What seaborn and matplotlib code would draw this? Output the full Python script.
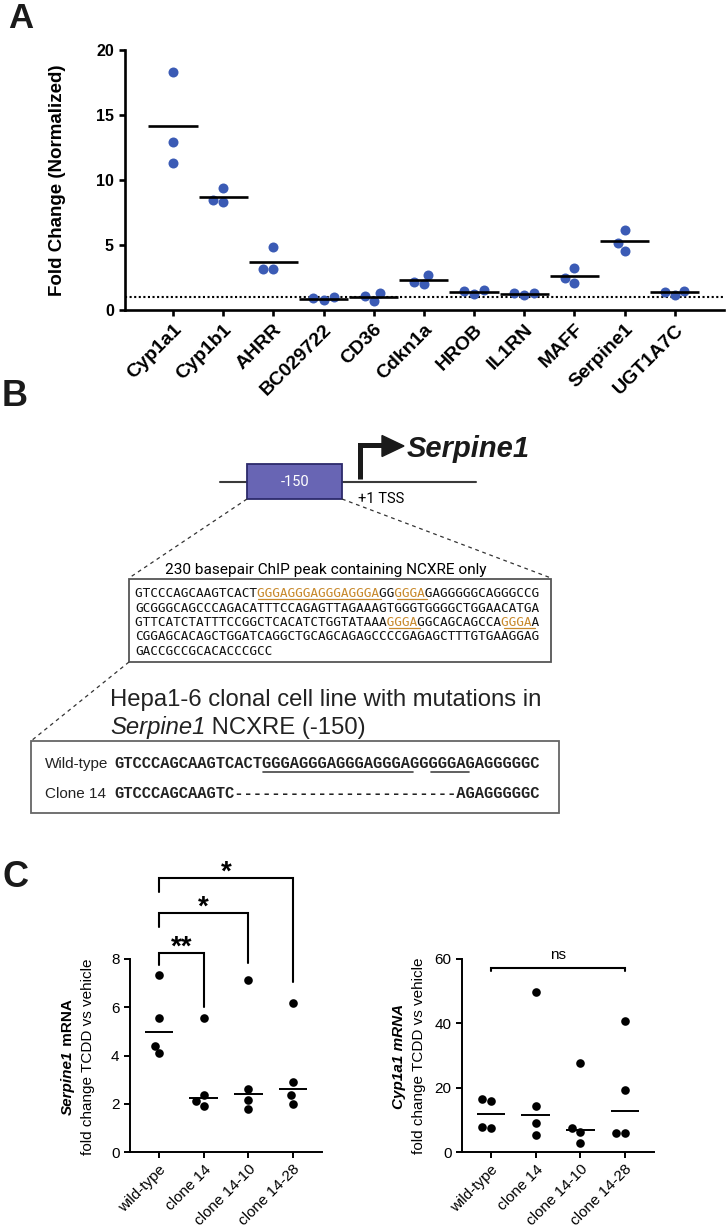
import numpy as np
import pandas as pd
import matplotlib
matplotlib.use("Agg")
import matplotlib.pyplot as plt
import seaborn as sns
from matplotlib.patches import Rectangle, Polygon

# ---- panel A data ----
genes = ['Cyp1a1', 'Cyp1b1', 'AHRR', 'BC029722', 'CD36', 'Cdkn1a',
         'HROB', 'IL1RN', 'MAFF', 'Serpine1', 'UGT1A7C']
fold_change = [[18.3, 12.9, 11.3], [9.36, 8.28, 8.46], [4.82, 3.13, 3.13],
               [0.77, 0.97, 0.90], [0.69, 1.28, 1.08], [1.97, 2.69, 2.18],
               [1.23, 1.54, 1.49], [1.13, 1.33, 1.28], [2.10, 3.26, 2.49],
               [4.51, 6.18, 5.13], [1.18, 1.49, 1.41]]

# ---- panel B text ----
chip_seq = ['GTCCCAGCAAGTCACTGGGAGGGAGGGAGGGAGGGGGAGAGGGGGCAGGGCCG',
            'GCGGGCAGCCCAGACATTTCCAGAGTTAGAAAGTGGGTGGGGCTGGAACATGA',
            'GTTCATCTATTTCCGGCTCACATCTGGTATAAAGGGAGGCAGCAGCCAGGGAA',
            'CGGAGCACAGCTGGATCAGGCTGCAGCAGAGCCCCGAGAGCTTTGTGAAGGAG',
            'GACCGCCGCACACCCGCC']
chip_motifs = [[(16, 32), (34, 38)], [], [(33, 37), (48, 52)], [], []]
mut_names = ['Wild-type', 'Clone 14']
mut_seq = ['GTCCCAGCAAGTCACTGGGAGGGAGGGAGGGAGGGGGAGAGGGGGC',
           'GTCCCAGCAAGTC' + '-' * 24 + 'AGAGGGGGC']
mut_underline = [(16, 32), (34, 38)]

# ---- panel C data ----
clones = ['wild-type', 'clone 14', 'clone 14-10', 'clone 14-28']
serpine1_mrna = [[7.34, 5.57, 4.10, 4.41], [5.57, 2.36, 1.92, 2.13],
                 [7.12, 2.61, 2.16, 1.77], [6.16, 2.89, 2.35, 2.00]]
cyp1a1_mrna = [[15.85, 16.5, 7.36, 7.9], [49.8, 14.3, 8.9, 5.18],
               [27.8, 7.36, 6.2, 2.9], [40.7, 19.3, 6.0, 6.0]]
sig_pairs = [(0, 1), (0, 2), (0, 3)]
sig_labels = ['**', '*', '*']
sig_tops = [8.26, 9.92, 11.37]
sig_left_ends = [7.76, 9.34, 10.79]
sig_right_ends = [6.02, 7.84, 7.05]

BLUE = '#3B5BB5'
ORANGE = '#C8892C'

sns.set_style('ticks')
plt.rcParams['font.family'] = ['Liberation Sans', 'DejaVu Sans']
plt.rcParams.update({'text.color': 'black', 'axes.labelcolor': 'black',
                     'xtick.color': 'black', 'ytick.color': 'black',
                     'axes.edgecolor': 'black'})

W, H = 726, 1226
fig = plt.figure(figsize=(W / 100, H / 100), dpi=100)


def box(l, t, r, b):
    return [l / W, 1 - b / H, (r - l) / W, (b - t) / H]


def long_df(names, values, col):
    return pd.DataFrame({'group': np.repeat(names, [len(v) for v in values]),
                         col: np.concatenate(values)})


# ---------------- A ----------------
axA = fig.add_axes(box(125, 50, 724, 310))
dfA = long_df(genes, fold_change, 'fc')
sns.swarmplot(data=dfA, x='group', y='fc', order=genes, color=BLUE,
              size=7.2, ax=axA, zorder=2)
means = dfA.groupby('group', sort=False)['fc'].mean().reindex(genes)
pos = np.arange(len(genes))
axA.hlines(means.values, pos - 0.49, pos + 0.49, color='black', lw=1.9, zorder=3)
axA.axhline(1, color='black', lw=1.5, ls=(0, (1, 1.2)), zorder=1)
axA.set_xlim(-0.956, 10.98)
axA.set_ylim(0, 20)
axA.set_yticks([0, 5, 10, 15, 20])
sns.despine(ax=axA)
for s in ['left', 'bottom']:
    axA.spines[s].set_linewidth(1.9)
axA.tick_params(width=1.9, length=4.5)
axA.set_xticks(pos, genes, rotation=45, ha='right', rotation_mode='anchor',
               fontweight='bold', fontsize=14)
for t in axA.get_yticklabels():
    t.set_fontweight('bold')
    t.set_fontsize(11.5)
axA.set_xlabel('')
axA.set_ylabel('Fold Change (Normalized)', fontweight='bold', fontsize=13.5)
axA.yaxis.set_label_coords(-0.099, 0.5)


# ---------------- C ----------------
def clone_plot(rect, values, ylim, yticks):
    ax = fig.add_axes(rect)
    df = long_df(clones, values, 'v')
    sns.swarmplot(data=df, x='group', y='v', order=clones, color='black',
                  size=6.2, ax=ax, zorder=2)
    med = df.groupby('group', sort=False)['v'].median().reindex(clones)
    p = np.arange(len(clones))
    ax.hlines(med.values, p - 0.32, p + 0.32, color='black', lw=1.4, zorder=3)
    ax.set_xlim(-0.65, 3.65)
    ax.set_ylim(*ylim)
    ax.set_yticks(yticks)
    sns.despine(ax=ax)
    for s in ['left', 'bottom']:
        ax.spines[s].set_linewidth(1.4)
    ax.tick_params(width=1.4, length=4, labelsize=11)
    ax.set_xticks(p, clones, rotation=45, ha='right', rotation_mode='anchor',
                  fontsize=11)
    ax.set_xlabel('')
    ax.set_ylabel('')
    return ax


def bracket(ax, x0, x1, top, l_end, r_end, label, fs, weight, off):
    ax.plot([x0, x0, x1, x1], [l_end, top, top, r_end], color='black', lw=1.5,
            clip_on=False, solid_joinstyle='miter')
    ax.annotate(label, xy=((x0 + x1) / 2, top), xytext=(0, off),
                textcoords='offset points', ha='center', va='baseline',
                fontsize=fs, fontweight=weight, annotation_clip=False)


axC1 = clone_plot(box(130, 959, 322, 1152), serpine1_mrna, (0, 8), [0, 2, 4, 6, 8])
for (a, b), lab, top, le, re in zip(sig_pairs, sig_labels, sig_tops,
                                    sig_left_ends, sig_right_ends):
    bracket(axC1, a, b, top, le, re, lab, 20, 'bold', -1.5)

axC2 = clone_plot(box(462, 959, 654, 1152), cyp1a1_mrna, (0, 60), [0, 20, 40, 60])
bracket(axC2, 0, 3, 57.1, 56.2, 56.2, 'ns', 11, 'normal', 7)

# ---------------- overlay (pixel coords) ----------------
ov = fig.add_axes([0, 0, 1, 1], zorder=10)
ov.set_xlim(0, W)
ov.set_ylim(H, 0)
ov.axis('off')
ov.patch.set_alpha(0)


def rich(x, y, parts, size, vertical=False, color='black'):
    ts = [ov.text(x, y, s, fontsize=size, fontweight=w, fontstyle=st,
                  rotation=90 if vertical else 0, rotation_mode='anchor',
                  ha='left', va='center' if vertical else 'baseline', color=color)
          for s, w, st in parts]
    fig.canvas.draw()
    r = fig.canvas.get_renderer()
    if vertical:
        lens = [t.get_window_extent(r).height for t in ts]
        cur = y + sum(lens) / 2
        for t, l in zip(ts, lens):
            t.set_position((x, cur))
            cur -= l
    else:
        lens = [t.get_window_extent(r).width for t in ts]
        cur = x
        for t, l in zip(ts, lens):
            t.set_position((cur, y))
            cur += l


# panel letters
ov.text(8, 28, 'A', fontsize=25, fontweight='bold', color='#1a1a1a')
ov.text(2, 406, 'B', fontsize=26, fontweight='bold', color='#1a1a1a')
ov.text(2, 887, 'C', fontsize=26, fontweight='bold', color='#1a1a1a')

# gene diagram
ov.plot([220, 476], [482, 482], color='#3a3a3a', lw=1.5, zorder=1)
ov.add_patch(Rectangle((247, 464), 95, 35, facecolor='#6865B4',
                       edgecolor='#2C2A6B', lw=1.3, zorder=2))
ov.text(295, 482, '-150', color='white', fontsize=10.5, ha='center', va='center',
        family=['Roboto', 'DejaVu Sans'], zorder=3)
ov.plot([360, 360, 384], [479, 445, 445], color='#1a1a1a', lw=3.6,
        solid_joinstyle='miter', solid_capstyle='butt')
ov.add_patch(Polygon([(382, 435.5), (382, 456.5), (404, 446)], closed=True,
                     color='#1a1a1a'))
ov.text(407, 457, 'Serpine1', fontsize=21, fontweight='bold', fontstyle='italic',
        color='#1a1a1a')
ov.text(358, 503, '+1 TSS', fontsize=10.5, family=['Roboto', 'DejaVu Sans'])

# zoom dashes
dash = dict(color='#333333', lw=0.9, ls=(0, (3, 3)))
ov.plot([247, 129], [499, 578], **dash)
ov.plot([342, 551], [499, 578], **dash)
ov.plot([129, 31], [662, 741], **dash)

# ChIP peak box
ov.text(326, 574, '230 basepair ChIP peak containing NCXRE only', fontsize=11.1,
        ha='center', family=['Roboto', 'DejaVu Sans'])
ov.add_patch(Rectangle((129, 579), 422, 83, facecolor='white',
                       edgecolor='#555555', lw=1.3))
cw = 9.2 * 100 / 72 * 0.60205
for i, (line, motifs) in enumerate(zip(chip_seq, chip_motifs)):
    base = 597 + i * 14.5
    mask = np.zeros(len(line), bool)
    for a, b in motifs:
        mask[a:b] = True
    black = ''.join(' ' if m else c for c, m in zip(line, mask))
    color = ''.join(c if m else ' ' for c, m in zip(line, mask))
    ov.text(135, base, black, family='DejaVu Sans Mono', fontsize=9.2, color='#111111')
    ov.text(135, base, color, family='DejaVu Sans Mono', fontsize=9.2, color=ORANGE)
    for a, b in motifs:
        ov.plot([135 + a * cw, 135 + b * cw], [base + 2, base + 2], color=ORANGE, lw=0.9)

# mutation panel
ov.text(110, 706, 'Hepa1-6 clonal cell line with mutations in', fontsize=17.2,
        color='#222222')
rich(110, 734, [('Serpine1', 'normal', 'italic'), (' NCXRE (-150)', 'normal', 'normal')],
     17.2, color='#222222')
ov.add_patch(Rectangle((31, 741), 528, 72, facecolor='white', edgecolor='#666666', lw=1.3))
mw = 11.2 * 100 / 72 * 0.6001
for i, (name, seq) in enumerate(zip(mut_names, mut_seq)):
    base = 768 + i * 30
    ov.text(45, base, name, fontsize=11, color='#222222')
    ov.text(114, base, seq, family='Liberation Mono', fontweight='bold',
            fontsize=11.2, color='#222222')
for a, b in mut_underline:
    ov.plot([114 + a * mw, 114 + b * mw], [772, 772], color='#444444', lw=1.2)

# panel C y labels
rich(68, 1057, [('Serpine1', 'bold', 'italic'), (' mRNA', 'bold', 'normal')], 11, vertical=True)
rich(88, 1057, [('fold change TCDD vs vehicle', 'normal', 'normal')], 11, vertical=True)
rich(399, 1056, [('Cyp1a1 mRNA', 'bold', 'italic')], 11, vertical=True)
rich(419, 1056, [('fold change TCDD vs vehicle', 'normal', 'normal')], 11, vertical=True)

fig.savefig('out.png', dpi=100)
